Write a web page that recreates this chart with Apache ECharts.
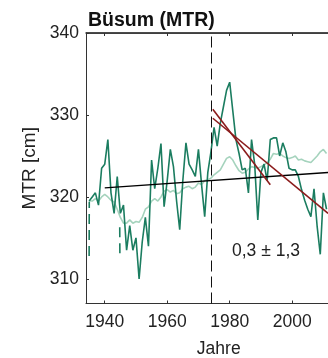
<!DOCTYPE html>
<html>
<head>
<meta charset="utf-8">
<script src="https://cdn.jsdelivr.net/npm/echarts@6/dist/echarts.min.js"></script>
<style>
  html, body { margin: 0; padding: 0; background: #fff; }
  #chart { width: 328px; height: 358px; }
</style>
</head>
<body>
<div id="chart"></div>
<script>
// annual mean tidal range, Büsum, from 1935
const firstYear = 1935
const mtrAnnual = [
  319.5, 320, 320.5, 319, 323.5, 324, 327, 320.5, 318, 322.5,
  318, 319, 313.5, 316.5, 313.5, 315, 310, 314.5, 317.5, 314,
  324.5, 321, 323.5, 326.5, 318.8, 322, 325.8, 323.7, 319.5, 316,
  322, 326.6, 324, 323.3, 322.5, 325.8, 321.5, 317.6, 323, 325.5,
  328.5, 326.2, 329, 331, 333, 334, 330.5, 327, 325.3, 323.3,
  323.5, 320.5, 327, 324, 317.2, 323, 324, 322, 327, 327.2,
  327.2, 325, 326.6, 325.5, 323.5, 323.3, 323.3, 322.5, 320.9, 319.6,
  318.5, 317.6, 321, 316.4, 313, 320.5, 318.5
]
const mtrSmooth = [
  319.5, 319.5, 319.8, 319.5, 320, 320.3, 320, 319.6, 319.4, 318.5,
  317.5, 316.8, 316.8, 317.2, 316.8, 317, 316.9, 317.5, 318.5, 318.8,
  319.5, 319.8, 319.5, 320, 320.7, 320.9, 320.6, 320.8, 320.4, 320.5,
  321, 321.2, 321.3, 321, 321.2, 321.7, 321.5, 322, 322.1, 322.3,
  322.7, 323, 323.3, 324, 324.7, 324.9, 324.5, 323.8, 323.2, 322.9,
  323, 323.4, 323.7, 323.6, 323.5, 323.7, 323.9, 324.2, 324.6, 325.3,
  325.2, 325.3, 325, 324.8, 324.7, 324.8, 325, 324.5, 324.6, 324.4,
  324.3, 324.2, 324.6, 325, 325.5, 325.8, 325.3
]
const gapA = [[1935.0, 312.8], [1935.05, 319.4]]
const gapB = [[1944.8, 316.3], [1944.85, 312.7]]
const trendAll = [[1940, 321.1], [2012, 323.0]]
const trendLateA = [[1974.6, 330.7], [1993, 321.5]]
const trendLateB = [[1974.6, 329.6], [2011.5, 318]]
const breakYear = 1974
const xTicks = [1940, 1960, 1980, 2000]
const yTicks = [310, 320, 330, 340]
const rateLabel = '0,3 ± 1,3'

const toPairs = (vals) => vals.map((v, i) => [firstYear + i, v])

const font = "'Liberation Sans', Arial, sans-serif"
const axisCol = '#333'
const darkGreen = '#1b7d60'
const lightGreen = '#a5d3bd'
const darkRed = '#8b1c1c'

const gridLeft = 86
const gridTop = 33
const chart = echarts.init(document.getElementById('chart'))

function lineSeries(data, color, width, extra) {
  return Object.assign({
    type: 'line',
    data,
    symbol: 'none',
    silent: true,
    animation: false,
    lineStyle: { color, width },
  }, extra || {})
}

chart.setOption({
  animation: false,
  textStyle: { fontFamily: font },
  // right side of the plot runs past the window like the original
  grid: {
    left: gridLeft, top: gridTop, width: 265.5, height: 270.5,
    outerBoundsMode: 'none',
  },
  xAxis: [
    {
      type: 'value',
      min: 1934,
      max: 2019,
      name: 'Jahre',
      nameLocation: 'middle',
      nameGap: 37,
      nameTextStyle: { fontSize: 17.5, color: '#222' },
      axisLine: { lineStyle: { color: axisCol, width: 1 } },
      axisTick: { inside: true, length: 3, customValues: xTicks, lineStyle: { color: axisCol } },
      axisLabel: { customValues: xTicks, formatter: (v) => String(v), fontSize: 17.5, color: '#222', margin: 10 },
      splitLine: { show: false },
    },
    {
      type: 'value',
      position: 'top',
      min: 1934,
      max: 2019,
      axisLine: { show: true, onZero: false, lineStyle: { color: axisCol, width: 1.5 } },
      axisTick: { show: true, inside: true, length: 3, customValues: xTicks, lineStyle: { color: axisCol } },
      axisLabel: { show: true, customValues: xTicks, color: 'rgba(0,0,0,0)' },
      splitLine: { show: false },
    },
  ],
  yAxis: {
    type: 'value',
    min: 307,
    max: 340,
    name: 'MTR [cm]',
    nameLocation: 'middle',
    nameRotate: 90,
    nameGap: 37,
    nameTextStyle: { fontSize: 19, color: '#222' },
    axisLine: { show: true, lineStyle: { color: axisCol, width: 1 } },
    axisTick: { show: true, inside: true, length: 3, customValues: yTicks, lineStyle: { color: axisCol } },
    axisLabel: { customValues: yTicks, fontSize: 17.5, color: '#222', margin: 7 },
    splitLine: { show: false },
  },
  graphic: [
    // top edge of the plot box
    { type: 'rect', z: 100, shape: { x: gridLeft, y: gridTop - 0.5, width: 328 - gridLeft, height: 1.2 }, style: { fill: axisCol } },
    { type: 'text', left: 88, top: 11, z: 100, style: { text: 'Büsum (MTR)', fontSize: 19.5, fontWeight: 'bold', fill: '#111', fontFamily: font } },
    { type: 'text', left: 232, top: 242, z: 100, style: { text: rateLabel, fontSize: 17.5, fill: '#222', fontFamily: font } },
  ],
  series: [
    lineSeries(toPairs(mtrSmooth), lightGreen, 1.6),
    lineSeries(toPairs(mtrAnnual), darkGreen, 1.6, {
      markLine: {
        silent: true,
        symbol: 'none',
        label: { show: false },
        lineStyle: { color: '#111', type: [11, 5], width: 1 },
        data: [{ xAxis: breakYear }],
      },
    }),
    lineSeries(gapA, darkGreen, 1.6, { lineStyle: { color: darkGreen, width: 1.6, type: [10, 6] } }),
    lineSeries(gapB, darkGreen, 1.6, { lineStyle: { color: darkGreen, width: 1.6, type: [10, 6] } }),
    lineSeries(trendAll, '#000', 1.4),
    lineSeries(trendLateA, darkRed, 1.6),
    lineSeries(trendLateB, darkRed, 1.6),
  ],
})
</script>
</body>
</html>
